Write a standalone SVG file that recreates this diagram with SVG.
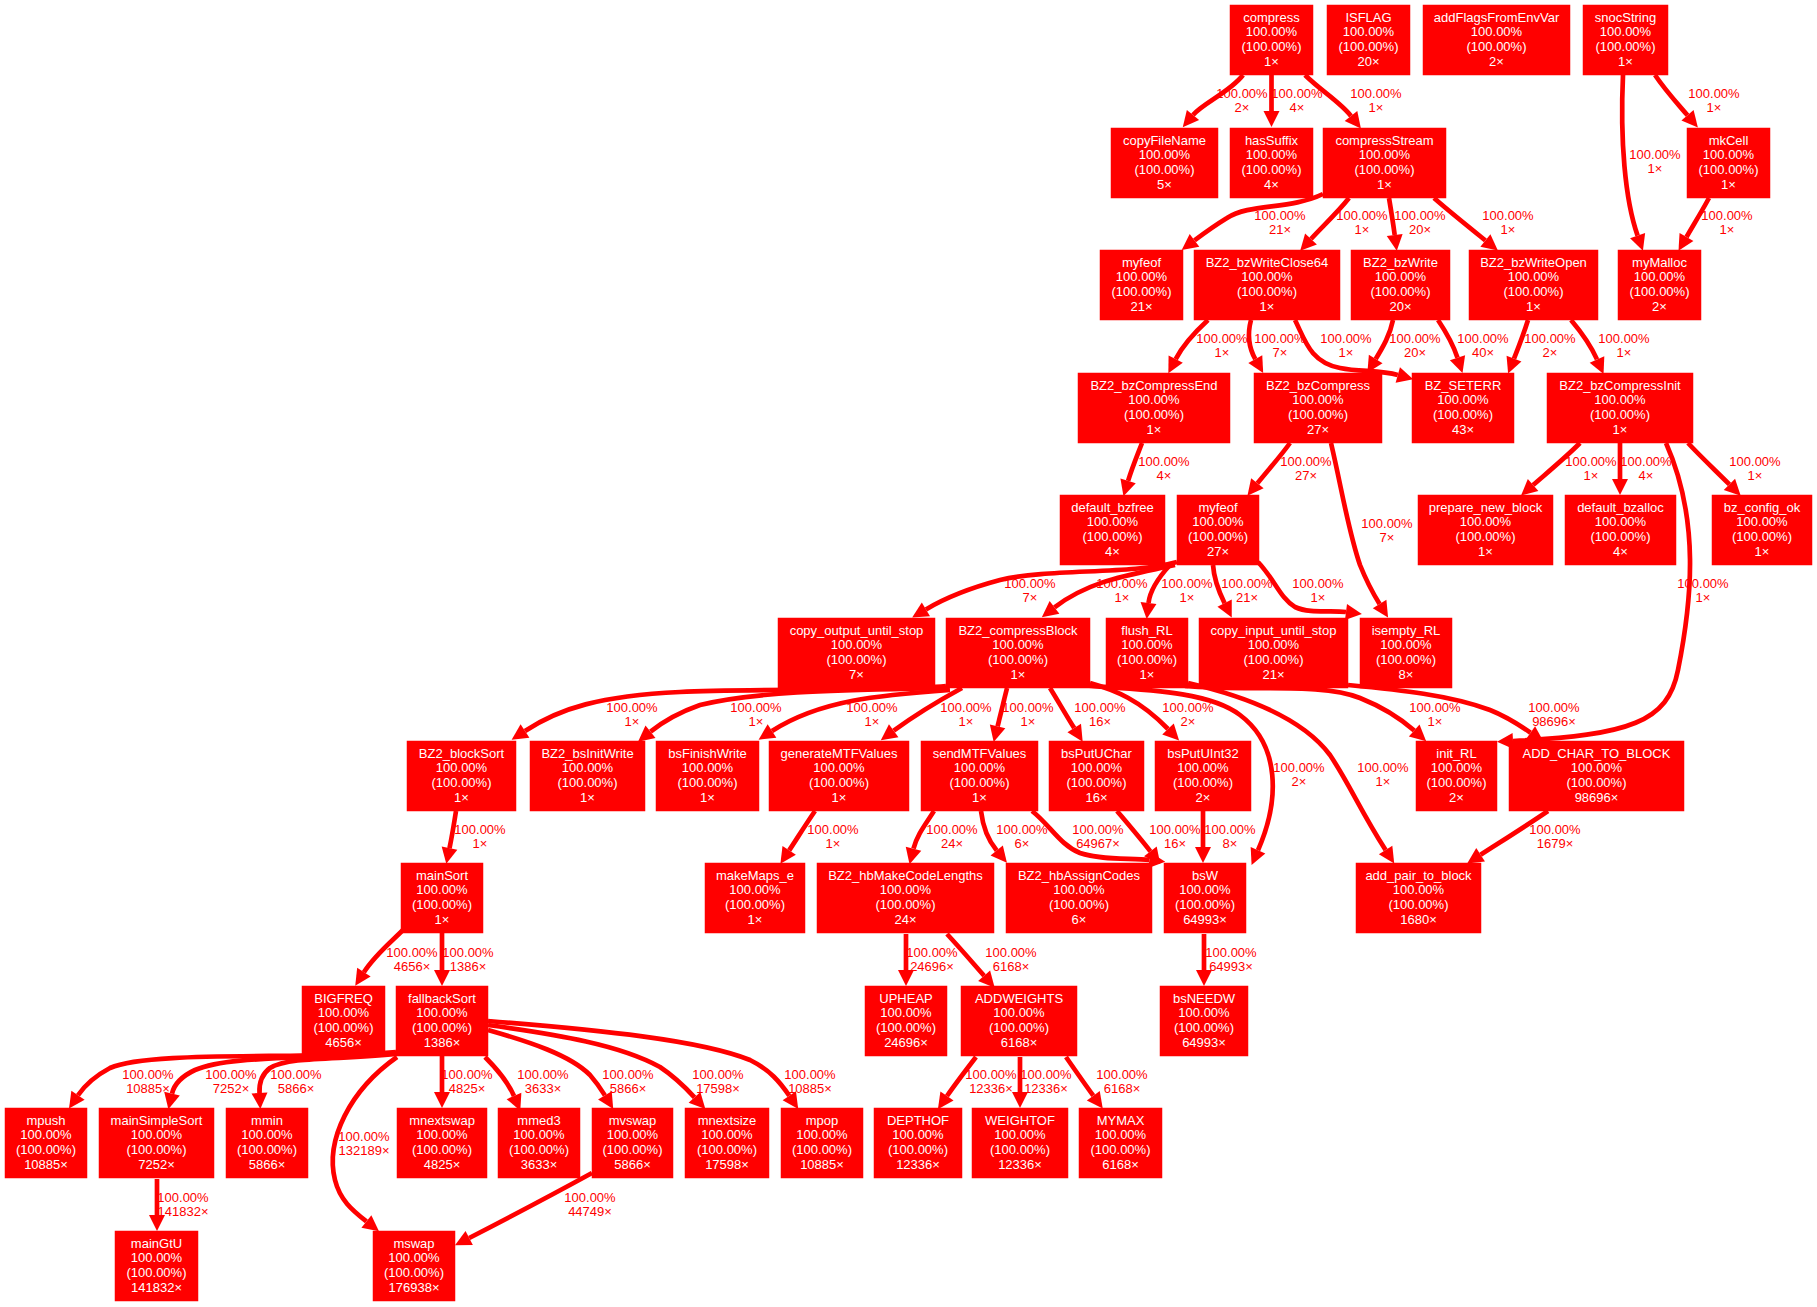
<svg xmlns="http://www.w3.org/2000/svg" width="1817" height="1307" viewBox="0 0 1817 1307">
<defs>
<marker id="ah" markerUnits="userSpaceOnUse" viewBox="0 0 16 16" markerWidth="16" markerHeight="16" refX="0" refY="8" orient="auto" overflow="visible"><path d="M0,0L16,8L0,16z" fill="#ff0000"/></marker>
<style>
.n rect{fill:#ff0000;stroke:#ff0000;stroke-width:0.5}
.n text{font-family:"Liberation Sans",Arial,sans-serif;font-size:13px;fill:#ffffff;text-anchor:middle}
#edges path{fill:none;stroke:#ff0000;stroke-width:4.7;marker-end:url(#ah)}
#edges text{font-family:"Liberation Sans",Arial,sans-serif;font-size:13px;fill:#ff0000;text-anchor:middle}
</style>
</defs>
<rect width="1817" height="1307" fill="#ffffff"/>
<g id="edges">
<path d="M1243,75 C1230,92 1203,103 1193,115"/><text x="1242" y="97.7">100.00%<tspan x="1242" dy="14">2×</tspan></text>
<path d="M1271.5,75 L1271.5,111"/><text x="1297" y="97.7">100.00%<tspan x="1297" dy="14">4×</tspan></text>
<path d="M1305,75 C1320,90 1340,102 1351,116"/><text x="1376" y="97.7">100.00%<tspan x="1376" dy="14">1×</tspan></text>
<path d="M1323,194 C1290,210 1250,203 1227,218 C1214,226 1203,234 1194.5,240.4"/><text x="1280" y="219.7">100.00%<tspan x="1280" dy="14">21×</tspan></text>
<path d="M1349,198 C1338,212 1322,227 1311,239"/><text x="1362" y="219.7">100.00%<tspan x="1362" dy="14">1×</tspan></text>
<path d="M1389,198 C1391,210 1393,222 1394.7,235"/><text x="1420" y="219.7">100.00%<tspan x="1420" dy="14">20×</tspan></text>
<path d="M1434,198 C1450,212 1470,228 1485.4,240.4"/><text x="1508" y="219.7">100.00%<tspan x="1508" dy="14">1×</tspan></text>
<path d="M1623,75 C1620,140 1625,200 1637.6,235.6"/><text x="1655" y="158.7">100.00%<tspan x="1655" dy="14">1×</tspan></text>
<path d="M1655,75 C1665,90 1677,103 1687.5,115.3"/><text x="1714" y="97.7">100.00%<tspan x="1714" dy="14">1×</tspan></text>
<path d="M1709,198 C1702,211 1694,224 1686.5,237"/><text x="1727" y="219.7">100.00%<tspan x="1727" dy="14">1×</tspan></text>
<path d="M1208,320 C1195,332 1183,345 1175.7,359.1"/><text x="1222" y="342.7">100.00%<tspan x="1222" dy="14">1×</tspan></text>
<path d="M1251,320 C1247,335 1249,348 1255.3,359.1"/><text x="1280" y="342.7">100.00%<tspan x="1280" dy="14">7×</tspan></text>
<path d="M1295,320 C1305,340 1310,362 1340,368 C1360,372 1380,370 1397.8,375"/><text x="1346" y="342.7">100.00%<tspan x="1346" dy="14">1×</tspan></text>
<path d="M1393,320 C1390,335 1383,347 1375.7,359"/><text x="1415" y="342.7">100.00%<tspan x="1415" dy="14">20×</tspan></text>
<path d="M1438,320 C1446,332 1453,344 1457.5,357.7"/><text x="1483" y="342.7">100.00%<tspan x="1483" dy="14">40×</tspan></text>
<path d="M1528,320 C1524,333 1519,346 1514,358.6"/><text x="1550" y="342.7">100.00%<tspan x="1550" dy="14">2×</tspan></text>
<path d="M1571,320 C1582,333 1591,346 1597,359.4"/><text x="1624" y="342.7">100.00%<tspan x="1624" dy="14">1×</tspan></text>
<path d="M1142,443 C1137,456 1132,468 1128.1,480.9"/><text x="1164" y="465.7">100.00%<tspan x="1164" dy="14">4×</tspan></text>
<path d="M1290,443 C1280,457 1268,470 1257.4,483.3"/><text x="1306" y="465.7">100.00%<tspan x="1306" dy="14">27×</tspan></text>
<path d="M1331,443 C1342,490 1348,530 1360,565 C1368,585 1374,595 1379.6,604"/><text x="1387" y="527.7">100.00%<tspan x="1387" dy="14">7×</tspan></text>
<path d="M1580,443 C1565,458 1548,472 1533.1,485"/><text x="1591" y="465.7">100.00%<tspan x="1591" dy="14">1×</tspan></text>
<path d="M1620,443 L1620,479"/><text x="1646" y="465.7">100.00%<tspan x="1646" dy="14">4×</tspan></text>
<path d="M1688,443 C1700,456 1715,470 1729.4,484.4"/><text x="1755" y="465.7">100.00%<tspan x="1755" dy="14">1×</tspan></text>
<path d="M1666,443 C1700,520 1692,600 1678,670 C1668,722 1630,735 1513,741"/><text x="1703" y="587.7">100.00%<tspan x="1703" dy="14">1×</tspan></text>
<path d="M1177,562 C1130,575 1050,568 1000,580 C970,588 945,598 925.9,609.4"/><text x="1030" y="587.7">100.00%<tspan x="1030" dy="14">7×</tspan></text>
<path d="M1175,565 C1130,575 1090,580 1054.5,607.4"/><text x="1122" y="587.7">100.00%<tspan x="1122" dy="14">1×</tspan></text>
<path d="M1170,565 C1158,578 1150,590 1148.5,603"/><text x="1187" y="587.7">100.00%<tspan x="1187" dy="14">1×</tspan></text>
<path d="M1213,565 C1214,580 1219,592 1224.6,603.2"/><text x="1247" y="587.7">100.00%<tspan x="1247" dy="14">21×</tspan></text>
<path d="M1258,562 C1275,580 1280,598 1295,607 C1310,614 1330,610 1346,612"/><text x="1318" y="587.7">100.00%<tspan x="1318" dy="14">1×</tspan></text>
<path d="M946,686 C880,692 750,688 680,692 C600,696 560,708 525,731"/><text x="632" y="711.7">100.00%<tspan x="632" dy="14">1×</tspan></text>
<path d="M946,688 C860,690 760,690 700,705 C680,712 665,720 650.5,731.7"/><text x="756" y="711.7">100.00%<tspan x="756" dy="14">1×</tspan></text>
<path d="M950,690 C880,695 820,700 772,731"/><text x="872" y="711.7">100.00%<tspan x="872" dy="14">1×</tspan></text>
<path d="M962,688 C940,700 915,715 893.7,730.7"/><text x="966" y="711.7">100.00%<tspan x="966" dy="14">1×</tspan></text>
<path d="M1007,688 C1004,700 1001,713 997.6,726.4"/><text x="1028" y="711.7">100.00%<tspan x="1028" dy="14">1×</tspan></text>
<path d="M1050,688 C1058,701 1066,715 1074.2,728.1"/><text x="1100" y="711.7">100.00%<tspan x="1100" dy="14">16×</tspan></text>
<path d="M1090,683 C1115,690 1140,700 1168,729"/><text x="1188" y="711.7">100.00%<tspan x="1188" dy="14">2×</tspan></text>
<path d="M1090,686 C1150,690 1210,692 1240,715 C1280,745 1280,800 1258,850.3"/><text x="1299" y="771.7">100.00%<tspan x="1299" dy="14">2×</tspan></text>
<path d="M1188,683 C1240,695 1300,715 1330,755 C1350,785 1360,810 1385.6,850"/><text x="1383" y="771.7">100.00%<tspan x="1383" dy="14">1×</tspan></text>
<path d="M1185,686 C1250,692 1320,682 1360,698 C1385,708 1400,718 1414.2,730.6"/><text x="1435" y="711.7">100.00%<tspan x="1435" dy="14">1×</tspan></text>
<path d="M1348,685 C1400,690 1450,695 1490,710 C1505,716 1518,724 1530.5,732.7"/><text x="1554" y="711.7">100.00%<tspan x="1554" dy="14">98696×</tspan></text>
<path d="M456,811 C454,824 452,836 449.5,848.2"/><text x="480" y="833.7">100.00%<tspan x="480" dy="14">1×</tspan></text>
<path d="M815,811 C806,824 798,837 789.2,850.4"/><text x="833" y="833.7">100.00%<tspan x="833" dy="14">1×</tspan></text>
<path d="M934,811 C925,825 917,835 913.5,848.7"/><text x="952" y="833.7">100.00%<tspan x="952" dy="14">24×</tspan></text>
<path d="M981,811 C983,828 988,840 996.7,850.5"/><text x="1022" y="833.7">100.00%<tspan x="1022" dy="14">6×</tspan></text>
<path d="M1032,811 C1050,825 1060,845 1080,853 C1100,860 1130,858 1149.3,860"/><text x="1098" y="833.7">100.00%<tspan x="1098" dy="14">64967×</tspan></text>
<path d="M1117,811 C1128,824 1140,838 1150.4,851.4"/><text x="1175" y="833.7">100.00%<tspan x="1175" dy="14">16×</tspan></text>
<path d="M1203,811 L1203,847"/><text x="1230" y="833.7">100.00%<tspan x="1230" dy="14">8×</tspan></text>
<path d="M1548,811 C1526,826 1502,841 1480.6,854.8"/><text x="1555" y="833.7">100.00%<tspan x="1555" dy="14">1679×</tspan></text>
<path d="M403,930 C390,943 375,955 363.9,972.2"/><text x="412" y="956.7">100.00%<tspan x="412" dy="14">4656×</tspan></text>
<path d="M442,933 L442,970"/><text x="468" y="956.7">100.00%<tspan x="468" dy="14">1386×</tspan></text>
<path d="M906,934 L906,970"/><text x="932" y="956.7">100.00%<tspan x="932" dy="14">24696×</tspan></text>
<path d="M947,934 C960,948 972,962 984.1,975.7"/><text x="1011" y="956.7">100.00%<tspan x="1011" dy="14">6168×</tspan></text>
<path d="M1204,934 L1204,970"/><text x="1231" y="956.7">100.00%<tspan x="1231" dy="14">64993×</tspan></text>
<path d="M396,1052 C300,1060 150,1050 110,1068 C95,1076 85,1085 78,1095.3"/><text x="148" y="1078.7">100.00%<tspan x="148" dy="14">10885×</tspan></text>
<path d="M396,1053 C300,1060 230,1055 195,1070 C180,1077 174,1085 172,1093.6"/><text x="231" y="1078.7">100.00%<tspan x="231" dy="14">7252×</tspan></text>
<path d="M396,1054 C340,1060 290,1056 270,1068 C262,1074 259,1083 259.5,1093"/><text x="296" y="1078.7">100.00%<tspan x="296" dy="14">5866×</tspan></text>
<path d="M397,1057 C350,1090 325,1140 335,1180 C340,1200 352,1210 366.4,1221.4"/><text x="364" y="1140.7">100.00%<tspan x="364" dy="14">132189×</tspan></text>
<path d="M442,1056 L442,1092"/><text x="467" y="1078.7">100.00%<tspan x="467" dy="14">4825×</tspan></text>
<path d="M485,1057 C498,1070 508,1082 514,1096"/><text x="543" y="1078.7">100.00%<tspan x="543" dy="14">3633×</tspan></text>
<path d="M488,1030 C530,1042 570,1055 590,1075 C597,1083 601,1089 604.9,1095.4"/><text x="628" y="1078.7">100.00%<tspan x="628" dy="14">5866×</tspan></text>
<path d="M488,1025 C560,1035 620,1045 660,1067 C675,1077 685,1087 694.5,1097.3"/><text x="718" y="1078.7">100.00%<tspan x="718" dy="14">17598×</tspan></text>
<path d="M488,1021 C600,1030 700,1040 750,1060 C770,1070 780,1082 789.3,1095.8"/><text x="810" y="1078.7">100.00%<tspan x="810" dy="14">10885×</tspan></text>
<path d="M976,1057 C966,1070 956,1083 947,1096"/><text x="991" y="1078.7">100.00%<tspan x="991" dy="14">12336×</tspan></text>
<path d="M1020,1057 L1020,1092"/><text x="1046" y="1078.7">100.00%<tspan x="1046" dy="14">12336×</tspan></text>
<path d="M1066,1057 C1075,1070 1084,1083 1093.3,1095.7"/><text x="1122" y="1078.7">100.00%<tspan x="1122" dy="14">6168×</tspan></text>
<path d="M157,1179 L157,1215"/><text x="183" y="1201.7">100.00%<tspan x="183" dy="14">141832×</tspan></text>
<path d="M592,1173 C550,1196 510,1217 469.2,1238"/><text x="590" y="1201.7">100.00%<tspan x="590" dy="14">44749×</tspan></text>
</g>
<g id="n_compress" class="n"><rect x="1230" y="5" width="83" height="70"/><text x="1271.5" y="21.5">compress<tspan x="1271.5" dy="14.7">100.00%</tspan><tspan x="1271.5" dy="14.7">(100.00%)</tspan><tspan x="1271.5" dy="14.7">1×</tspan></text></g>
<g id="n_ISFLAG" class="n"><rect x="1327" y="5" width="83" height="70"/><text x="1368.5" y="21.5">ISFLAG<tspan x="1368.5" dy="14.7">100.00%</tspan><tspan x="1368.5" dy="14.7">(100.00%)</tspan><tspan x="1368.5" dy="14.7">20×</tspan></text></g>
<g id="n_addFlagsFromEnvVar" class="n"><rect x="1423" y="5" width="147" height="70"/><text x="1496.5" y="21.5">addFlagsFromEnvVar<tspan x="1496.5" dy="14.7">100.00%</tspan><tspan x="1496.5" dy="14.7">(100.00%)</tspan><tspan x="1496.5" dy="14.7">2×</tspan></text></g>
<g id="n_snocString" class="n"><rect x="1583" y="5" width="85" height="70"/><text x="1625.5" y="21.5">snocString<tspan x="1625.5" dy="14.7">100.00%</tspan><tspan x="1625.5" dy="14.7">(100.00%)</tspan><tspan x="1625.5" dy="14.7">1×</tspan></text></g>
<g id="n_copyFileName" class="n"><rect x="1111" y="128" width="107" height="70"/><text x="1164.5" y="144.5">copyFileName<tspan x="1164.5" dy="14.7">100.00%</tspan><tspan x="1164.5" dy="14.7">(100.00%)</tspan><tspan x="1164.5" dy="14.7">5×</tspan></text></g>
<g id="n_hasSuffix" class="n"><rect x="1230" y="128" width="83" height="70"/><text x="1271.5" y="144.5">hasSuffix<tspan x="1271.5" dy="14.7">100.00%</tspan><tspan x="1271.5" dy="14.7">(100.00%)</tspan><tspan x="1271.5" dy="14.7">4×</tspan></text></g>
<g id="n_compressStream" class="n"><rect x="1323" y="128" width="123" height="70"/><text x="1384.5" y="144.5">compressStream<tspan x="1384.5" dy="14.7">100.00%</tspan><tspan x="1384.5" dy="14.7">(100.00%)</tspan><tspan x="1384.5" dy="14.7">1×</tspan></text></g>
<g id="n_mkCell" class="n"><rect x="1687" y="128" width="83" height="70"/><text x="1728.5" y="144.5">mkCell<tspan x="1728.5" dy="14.7">100.00%</tspan><tspan x="1728.5" dy="14.7">(100.00%)</tspan><tspan x="1728.5" dy="14.7">1×</tspan></text></g>
<g id="n_myfeof_21" class="n"><rect x="1100" y="250" width="83" height="70"/><text x="1141.5" y="266.5">myfeof<tspan x="1141.5" dy="14.7">100.00%</tspan><tspan x="1141.5" dy="14.7">(100.00%)</tspan><tspan x="1141.5" dy="14.7">21×</tspan></text></g>
<g id="n_BZ2_bzWriteClose64" class="n"><rect x="1194" y="250" width="146" height="70"/><text x="1267" y="266.5">BZ2_bzWriteClose64<tspan x="1267" dy="14.7">100.00%</tspan><tspan x="1267" dy="14.7">(100.00%)</tspan><tspan x="1267" dy="14.7">1×</tspan></text></g>
<g id="n_BZ2_bzWrite" class="n"><rect x="1351" y="250" width="99" height="70"/><text x="1400.5" y="266.5">BZ2_bzWrite<tspan x="1400.5" dy="14.7">100.00%</tspan><tspan x="1400.5" dy="14.7">(100.00%)</tspan><tspan x="1400.5" dy="14.7">20×</tspan></text></g>
<g id="n_BZ2_bzWriteOpen" class="n"><rect x="1469" y="250" width="129" height="70"/><text x="1533.5" y="266.5">BZ2_bzWriteOpen<tspan x="1533.5" dy="14.7">100.00%</tspan><tspan x="1533.5" dy="14.7">(100.00%)</tspan><tspan x="1533.5" dy="14.7">1×</tspan></text></g>
<g id="n_myMalloc" class="n"><rect x="1618" y="250" width="83" height="70"/><text x="1659.5" y="266.5">myMalloc<tspan x="1659.5" dy="14.7">100.00%</tspan><tspan x="1659.5" dy="14.7">(100.00%)</tspan><tspan x="1659.5" dy="14.7">2×</tspan></text></g>
<g id="n_BZ2_bzCompressEnd" class="n"><rect x="1078" y="373" width="152" height="70"/><text x="1154" y="389.5">BZ2_bzCompressEnd<tspan x="1154" dy="14.7">100.00%</tspan><tspan x="1154" dy="14.7">(100.00%)</tspan><tspan x="1154" dy="14.7">1×</tspan></text></g>
<g id="n_BZ2_bzCompress" class="n"><rect x="1254" y="373" width="128" height="70"/><text x="1318" y="389.5">BZ2_bzCompress<tspan x="1318" dy="14.7">100.00%</tspan><tspan x="1318" dy="14.7">(100.00%)</tspan><tspan x="1318" dy="14.7">27×</tspan></text></g>
<g id="n_BZ_SETERR" class="n"><rect x="1412" y="373" width="102" height="70"/><text x="1463" y="389.5">BZ_SETERR<tspan x="1463" dy="14.7">100.00%</tspan><tspan x="1463" dy="14.7">(100.00%)</tspan><tspan x="1463" dy="14.7">43×</tspan></text></g>
<g id="n_BZ2_bzCompressInit" class="n"><rect x="1547" y="373" width="146" height="70"/><text x="1620" y="389.5">BZ2_bzCompressInit<tspan x="1620" dy="14.7">100.00%</tspan><tspan x="1620" dy="14.7">(100.00%)</tspan><tspan x="1620" dy="14.7">1×</tspan></text></g>
<g id="n_default_bzfree" class="n"><rect x="1060" y="495" width="105" height="70"/><text x="1112.5" y="511.5">default_bzfree<tspan x="1112.5" dy="14.7">100.00%</tspan><tspan x="1112.5" dy="14.7">(100.00%)</tspan><tspan x="1112.5" dy="14.7">4×</tspan></text></g>
<g id="n_myfeof_27" class="n"><rect x="1177" y="495" width="82" height="70"/><text x="1218" y="511.5">myfeof<tspan x="1218" dy="14.7">100.00%</tspan><tspan x="1218" dy="14.7">(100.00%)</tspan><tspan x="1218" dy="14.7">27×</tspan></text></g>
<g id="n_prepare_new_block" class="n"><rect x="1418" y="495" width="135" height="70"/><text x="1485.5" y="511.5">prepare_new_block<tspan x="1485.5" dy="14.7">100.00%</tspan><tspan x="1485.5" dy="14.7">(100.00%)</tspan><tspan x="1485.5" dy="14.7">1×</tspan></text></g>
<g id="n_default_bzalloc" class="n"><rect x="1565" y="495" width="111" height="70"/><text x="1620.5" y="511.5">default_bzalloc<tspan x="1620.5" dy="14.7">100.00%</tspan><tspan x="1620.5" dy="14.7">(100.00%)</tspan><tspan x="1620.5" dy="14.7">4×</tspan></text></g>
<g id="n_bz_config_ok" class="n"><rect x="1712" y="495" width="100" height="70"/><text x="1762" y="511.5">bz_config_ok<tspan x="1762" dy="14.7">100.00%</tspan><tspan x="1762" dy="14.7">(100.00%)</tspan><tspan x="1762" dy="14.7">1×</tspan></text></g>
<g id="n_copy_output_until_stop" class="n"><rect x="778" y="618" width="157" height="70"/><text x="856.5" y="634.5">copy_output_until_stop<tspan x="856.5" dy="14.7">100.00%</tspan><tspan x="856.5" dy="14.7">(100.00%)</tspan><tspan x="856.5" dy="14.7">7×</tspan></text></g>
<g id="n_BZ2_compressBlock" class="n"><rect x="946" y="618" width="144" height="70"/><text x="1018" y="634.5">BZ2_compressBlock<tspan x="1018" dy="14.7">100.00%</tspan><tspan x="1018" dy="14.7">(100.00%)</tspan><tspan x="1018" dy="14.7">1×</tspan></text></g>
<g id="n_flush_RL" class="n"><rect x="1106" y="618" width="82" height="70"/><text x="1147" y="634.5">flush_RL<tspan x="1147" dy="14.7">100.00%</tspan><tspan x="1147" dy="14.7">(100.00%)</tspan><tspan x="1147" dy="14.7">1×</tspan></text></g>
<g id="n_copy_input_until_stop" class="n"><rect x="1199" y="618" width="149" height="70"/><text x="1273.5" y="634.5">copy_input_until_stop<tspan x="1273.5" dy="14.7">100.00%</tspan><tspan x="1273.5" dy="14.7">(100.00%)</tspan><tspan x="1273.5" dy="14.7">21×</tspan></text></g>
<g id="n_isempty_RL" class="n"><rect x="1360" y="618" width="92" height="70"/><text x="1406" y="634.5">isempty_RL<tspan x="1406" dy="14.7">100.00%</tspan><tspan x="1406" dy="14.7">(100.00%)</tspan><tspan x="1406" dy="14.7">8×</tspan></text></g>
<g id="n_BZ2_blockSort" class="n"><rect x="407" y="741" width="109" height="70"/><text x="461.5" y="757.5">BZ2_blockSort<tspan x="461.5" dy="14.7">100.00%</tspan><tspan x="461.5" dy="14.7">(100.00%)</tspan><tspan x="461.5" dy="14.7">1×</tspan></text></g>
<g id="n_BZ2_bsInitWrite" class="n"><rect x="530" y="741" width="115" height="70"/><text x="587.5" y="757.5">BZ2_bsInitWrite<tspan x="587.5" dy="14.7">100.00%</tspan><tspan x="587.5" dy="14.7">(100.00%)</tspan><tspan x="587.5" dy="14.7">1×</tspan></text></g>
<g id="n_bsFinishWrite" class="n"><rect x="656" y="741" width="103" height="70"/><text x="707.5" y="757.5">bsFinishWrite<tspan x="707.5" dy="14.7">100.00%</tspan><tspan x="707.5" dy="14.7">(100.00%)</tspan><tspan x="707.5" dy="14.7">1×</tspan></text></g>
<g id="n_generateMTFValues" class="n"><rect x="769" y="741" width="140" height="70"/><text x="839" y="757.5">generateMTFValues<tspan x="839" dy="14.7">100.00%</tspan><tspan x="839" dy="14.7">(100.00%)</tspan><tspan x="839" dy="14.7">1×</tspan></text></g>
<g id="n_sendMTFValues" class="n"><rect x="921" y="741" width="117" height="70"/><text x="979.5" y="757.5">sendMTFValues<tspan x="979.5" dy="14.7">100.00%</tspan><tspan x="979.5" dy="14.7">(100.00%)</tspan><tspan x="979.5" dy="14.7">1×</tspan></text></g>
<g id="n_bsPutUChar" class="n"><rect x="1049" y="741" width="95" height="70"/><text x="1096.5" y="757.5">bsPutUChar<tspan x="1096.5" dy="14.7">100.00%</tspan><tspan x="1096.5" dy="14.7">(100.00%)</tspan><tspan x="1096.5" dy="14.7">16×</tspan></text></g>
<g id="n_bsPutUInt32" class="n"><rect x="1155" y="741" width="96" height="70"/><text x="1203" y="757.5">bsPutUInt32<tspan x="1203" dy="14.7">100.00%</tspan><tspan x="1203" dy="14.7">(100.00%)</tspan><tspan x="1203" dy="14.7">2×</tspan></text></g>
<g id="n_init_RL" class="n"><rect x="1416" y="741" width="81" height="70"/><text x="1456.5" y="757.5">init_RL<tspan x="1456.5" dy="14.7">100.00%</tspan><tspan x="1456.5" dy="14.7">(100.00%)</tspan><tspan x="1456.5" dy="14.7">2×</tspan></text></g>
<g id="n_ADD_CHAR_TO_BLOCK" class="n"><rect x="1509" y="741" width="175" height="70"/><text x="1596.5" y="757.5">ADD_CHAR_TO_BLOCK<tspan x="1596.5" dy="14.7">100.00%</tspan><tspan x="1596.5" dy="14.7">(100.00%)</tspan><tspan x="1596.5" dy="14.7">98696×</tspan></text></g>
<g id="n_mainSort" class="n"><rect x="401" y="863" width="82" height="70"/><text x="442" y="879.5">mainSort<tspan x="442" dy="14.7">100.00%</tspan><tspan x="442" dy="14.7">(100.00%)</tspan><tspan x="442" dy="14.7">1×</tspan></text></g>
<g id="n_makeMaps_e" class="n"><rect x="705" y="863" width="100" height="70"/><text x="755" y="879.5">makeMaps_e<tspan x="755" dy="14.7">100.00%</tspan><tspan x="755" dy="14.7">(100.00%)</tspan><tspan x="755" dy="14.7">1×</tspan></text></g>
<g id="n_BZ2_hbMakeCodeLengths" class="n"><rect x="817" y="863" width="177" height="70"/><text x="905.5" y="879.5">BZ2_hbMakeCodeLengths<tspan x="905.5" dy="14.7">100.00%</tspan><tspan x="905.5" dy="14.7">(100.00%)</tspan><tspan x="905.5" dy="14.7">24×</tspan></text></g>
<g id="n_BZ2_hbAssignCodes" class="n"><rect x="1006" y="863" width="146" height="70"/><text x="1079" y="879.5">BZ2_hbAssignCodes<tspan x="1079" dy="14.7">100.00%</tspan><tspan x="1079" dy="14.7">(100.00%)</tspan><tspan x="1079" dy="14.7">6×</tspan></text></g>
<g id="n_bsW" class="n"><rect x="1164" y="863" width="82" height="70"/><text x="1205" y="879.5">bsW<tspan x="1205" dy="14.7">100.00%</tspan><tspan x="1205" dy="14.7">(100.00%)</tspan><tspan x="1205" dy="14.7">64993×</tspan></text></g>
<g id="n_add_pair_to_block" class="n"><rect x="1356" y="863" width="125" height="70"/><text x="1418.5" y="879.5">add_pair_to_block<tspan x="1418.5" dy="14.7">100.00%</tspan><tspan x="1418.5" dy="14.7">(100.00%)</tspan><tspan x="1418.5" dy="14.7">1680×</tspan></text></g>
<g id="n_BIGFREQ" class="n"><rect x="302" y="986" width="83" height="70"/><text x="343.5" y="1002.5">BIGFREQ<tspan x="343.5" dy="14.7">100.00%</tspan><tspan x="343.5" dy="14.7">(100.00%)</tspan><tspan x="343.5" dy="14.7">4656×</tspan></text></g>
<g id="n_fallbackSort" class="n"><rect x="396" y="986" width="92" height="70"/><text x="442" y="1002.5">fallbackSort<tspan x="442" dy="14.7">100.00%</tspan><tspan x="442" dy="14.7">(100.00%)</tspan><tspan x="442" dy="14.7">1386×</tspan></text></g>
<g id="n_UPHEAP" class="n"><rect x="865" y="986" width="82" height="70"/><text x="906" y="1002.5">UPHEAP<tspan x="906" dy="14.7">100.00%</tspan><tspan x="906" dy="14.7">(100.00%)</tspan><tspan x="906" dy="14.7">24696×</tspan></text></g>
<g id="n_ADDWEIGHTS" class="n"><rect x="961" y="986" width="116" height="70"/><text x="1019" y="1002.5">ADDWEIGHTS<tspan x="1019" dy="14.7">100.00%</tspan><tspan x="1019" dy="14.7">(100.00%)</tspan><tspan x="1019" dy="14.7">6168×</tspan></text></g>
<g id="n_bsNEEDW" class="n"><rect x="1160" y="986" width="88" height="70"/><text x="1204" y="1002.5">bsNEEDW<tspan x="1204" dy="14.7">100.00%</tspan><tspan x="1204" dy="14.7">(100.00%)</tspan><tspan x="1204" dy="14.7">64993×</tspan></text></g>
<g id="n_mpush" class="n"><rect x="5" y="1108" width="82" height="70"/><text x="46" y="1124.5">mpush<tspan x="46" dy="14.7">100.00%</tspan><tspan x="46" dy="14.7">(100.00%)</tspan><tspan x="46" dy="14.7">10885×</tspan></text></g>
<g id="n_mainSimpleSort" class="n"><rect x="99" y="1108" width="115" height="70"/><text x="156.5" y="1124.5">mainSimpleSort<tspan x="156.5" dy="14.7">100.00%</tspan><tspan x="156.5" dy="14.7">(100.00%)</tspan><tspan x="156.5" dy="14.7">7252×</tspan></text></g>
<g id="n_mmin" class="n"><rect x="226" y="1108" width="82" height="70"/><text x="267" y="1124.5">mmin<tspan x="267" dy="14.7">100.00%</tspan><tspan x="267" dy="14.7">(100.00%)</tspan><tspan x="267" dy="14.7">5866×</tspan></text></g>
<g id="n_mnextswap" class="n"><rect x="397" y="1108" width="90" height="70"/><text x="442" y="1124.5">mnextswap<tspan x="442" dy="14.7">100.00%</tspan><tspan x="442" dy="14.7">(100.00%)</tspan><tspan x="442" dy="14.7">4825×</tspan></text></g>
<g id="n_mmed3" class="n"><rect x="498" y="1108" width="82" height="70"/><text x="539" y="1124.5">mmed3<tspan x="539" dy="14.7">100.00%</tspan><tspan x="539" dy="14.7">(100.00%)</tspan><tspan x="539" dy="14.7">3633×</tspan></text></g>
<g id="n_mvswap" class="n"><rect x="592" y="1108" width="81" height="70"/><text x="632.5" y="1124.5">mvswap<tspan x="632.5" dy="14.7">100.00%</tspan><tspan x="632.5" dy="14.7">(100.00%)</tspan><tspan x="632.5" dy="14.7">5866×</tspan></text></g>
<g id="n_mnextsize" class="n"><rect x="685" y="1108" width="84" height="70"/><text x="727" y="1124.5">mnextsize<tspan x="727" dy="14.7">100.00%</tspan><tspan x="727" dy="14.7">(100.00%)</tspan><tspan x="727" dy="14.7">17598×</tspan></text></g>
<g id="n_mpop" class="n"><rect x="781" y="1108" width="82" height="70"/><text x="822" y="1124.5">mpop<tspan x="822" dy="14.7">100.00%</tspan><tspan x="822" dy="14.7">(100.00%)</tspan><tspan x="822" dy="14.7">10885×</tspan></text></g>
<g id="n_DEPTHOF" class="n"><rect x="874" y="1108" width="88" height="70"/><text x="918" y="1124.5">DEPTHOF<tspan x="918" dy="14.7">100.00%</tspan><tspan x="918" dy="14.7">(100.00%)</tspan><tspan x="918" dy="14.7">12336×</tspan></text></g>
<g id="n_WEIGHTOF" class="n"><rect x="972" y="1108" width="96" height="70"/><text x="1020" y="1124.5">WEIGHTOF<tspan x="1020" dy="14.7">100.00%</tspan><tspan x="1020" dy="14.7">(100.00%)</tspan><tspan x="1020" dy="14.7">12336×</tspan></text></g>
<g id="n_MYMAX" class="n"><rect x="1079" y="1108" width="83" height="70"/><text x="1120.5" y="1124.5">MYMAX<tspan x="1120.5" dy="14.7">100.00%</tspan><tspan x="1120.5" dy="14.7">(100.00%)</tspan><tspan x="1120.5" dy="14.7">6168×</tspan></text></g>
<g id="n_mainGtU" class="n"><rect x="115" y="1231" width="83" height="70"/><text x="156.5" y="1247.5">mainGtU<tspan x="156.5" dy="14.7">100.00%</tspan><tspan x="156.5" dy="14.7">(100.00%)</tspan><tspan x="156.5" dy="14.7">141832×</tspan></text></g>
<g id="n_mswap" class="n"><rect x="373" y="1231" width="82" height="70"/><text x="414" y="1247.5">mswap<tspan x="414" dy="14.7">100.00%</tspan><tspan x="414" dy="14.7">(100.00%)</tspan><tspan x="414" dy="14.7">176938×</tspan></text></g>
</svg>
